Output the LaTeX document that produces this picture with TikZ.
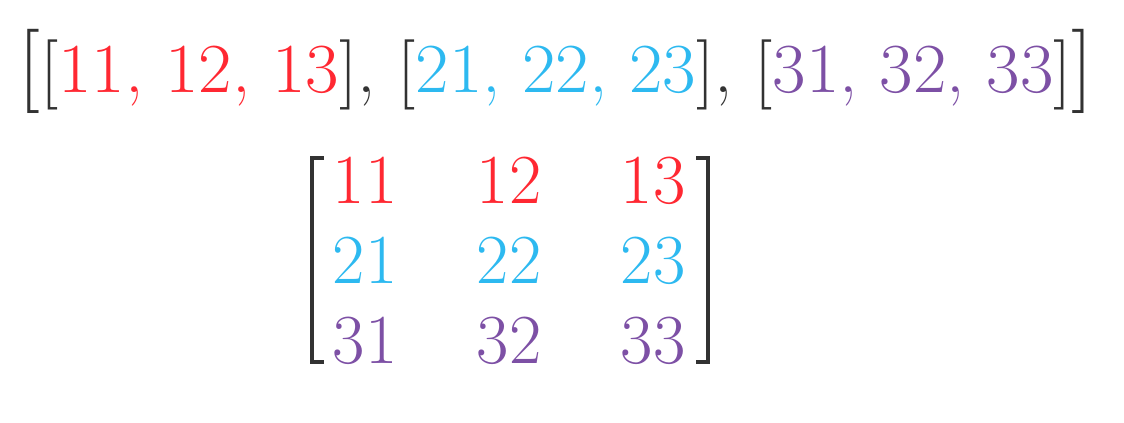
\documentclass[tikz,border=0pt]{standalone}
\usepackage{xcolor}

\definecolor{rowA}{RGB}{255,40,50}
\definecolor{rowB}{RGB}{45,185,240}
\definecolor{rowC}{RGB}{125,80,165}
\definecolor{brk}{RGB}{50,50,50}

\newcommand{\bigbrk}[1]{{\fontsize{60}{70}\selectfont #1}}

\tikzset{
    cell/.style={inner sep=0pt, anchor=base, font=\fontsize{50}{60}\selectfont},
    brace/.style={brk, line width=3.5pt, line cap=butt}
}

\begin{document}
\begin{tikzpicture}

    \useasboundingbox (0,0) rectangle (28.1,10.55);
    % liste imbriquee
    \node[cell, text=brk, xscale=1.035, transform shape] (list) at (13.9,8.25) {\bigbrk{[}[\textcolor{rowA}{11, 12, 13}], [\textcolor{rowB}{21, 22, 23}], [\textcolor{rowC}{31, 32, 33}]\bigbrk{]}};
    % matrice
    \foreach \r/\col in {1/rowA,2/rowB,3/rowC} {
        \foreach \c in {1,2,3} {
            \node[cell, text=\col] (m-\r-\c) at ({9.125+(\c-1)*3.6},{7.475-2*\r}) {\r\c};
        }
    }
    % crochets
    \draw[brace] (8.1,6.6) -- (7.8,6.6) -- (7.8,1.5) -- (8.1,1.5);
    \draw[brace] (17.4,6.6) -- (17.7,6.6) -- (17.7,1.5) -- (17.4,1.5);
\end{tikzpicture}
\end{document}
